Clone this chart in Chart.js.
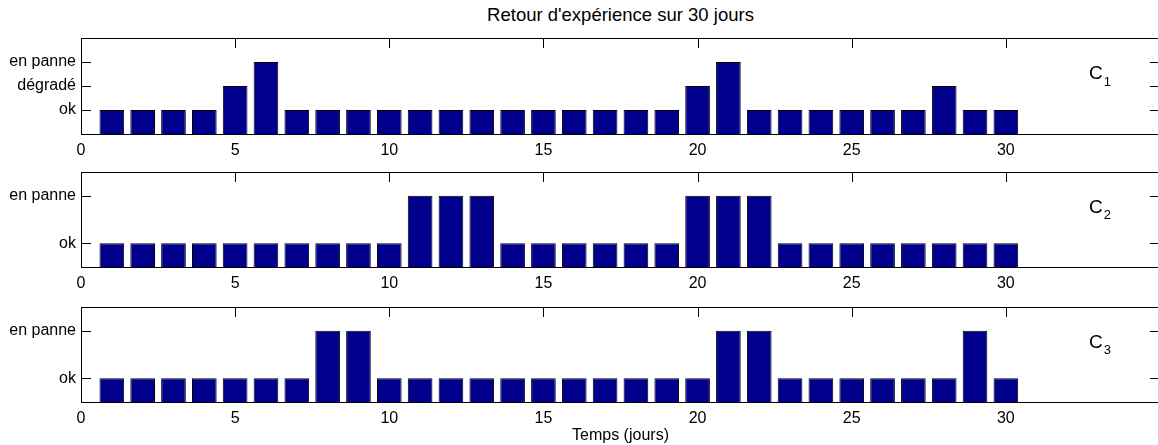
<!DOCTYPE html>
<html>
<head>
<meta charset="utf-8">
<script src="https://cdn.jsdelivr.net/npm/chart.js@4"></script>
<style>
  html, body { margin: 0; padding: 0; background: #fff; }
  body { width: 1158px; height: 445px; position: relative; overflow: hidden; font-family: "Liberation Sans", Arial, sans-serif; }
  canvas { position: absolute; left: 0; }
  .txt { position: absolute; left: 81px; width: 1079px; text-align: center; color: #000; white-space: nowrap; }
</style>
</head>
<body>
<div class="txt" id="title" style="top:5px; font-size:18.5px; line-height:20px;">Retour d'expérience sur 30 jours</div>
<canvas id="p1" width="1170" height="136" style="top:28px"></canvas>
<canvas id="p2" width="1170" height="135" style="top:162px"></canvas>
<canvas id="p3" width="1170" height="135" style="top:297px"></canvas>
<div class="txt" id="xlabel" style="top:427px; font-size:16px; line-height:16px;">Temps (jours)</div>
<script>
const days = [1, 2, 3, 4, 5, 6, 7, 8, 9, 10, 11, 12, 13, 14, 15, 16, 17, 18, 19, 20, 21, 22, 23, 24, 25, 26, 27, 28, 29, 30];
// 1 = ok, 2 = dégradé, 3 = en panne
const c1 = [1, 1, 1, 1, 2, 3, 1, 1, 1, 1, 1, 1, 1, 1, 1, 1, 1, 1, 1, 2, 3, 1, 1, 1, 1, 1, 1, 2, 1, 1];
const c2 = [1, 1, 1, 1, 1, 1, 1, 1, 1, 1, 3, 3, 3, 1, 1, 1, 1, 1, 1, 3, 3, 3, 1, 1, 1, 1, 1, 1, 1, 1];
const c3 = [1, 1, 1, 1, 1, 1, 1, 3, 3, 1, 1, 1, 1, 1, 1, 1, 1, 1, 1, 1, 3, 3, 1, 1, 1, 1, 1, 1, 3, 1];
const states = { 1: 'ok', 2: 'dégradé', 3: 'en panne' };
const ticks1 = [1, 2, 3];
const ticks23 = [1, 3];
const xTicks = [0, 5, 10, 15, 20, 25, 30];

const TICK = 10;
const FONT = "'Liberation Sans', Arial, sans-serif";

// box round the axes with inward ticks, MATLAB style
const boxPlugin = {
  id: 'box',
  beforeDatasetsDraw(chart) {
    const { ctx, chartArea: a, scales: { x, y } } = chart;
    ctx.save();
    ctx.strokeStyle = '#000';
    ctx.lineWidth = 1;
    ctx.beginPath();
    x.ticks.forEach(t => {
      const px = Math.round(x.getPixelForValue(t.value)) + 0.5;
      ctx.moveTo(px, a.top); ctx.lineTo(px, a.top + TICK);
      ctx.moveTo(px, a.bottom); ctx.lineTo(px, a.bottom - TICK);
    });
    y.ticks.forEach(t => {
      const py = Math.round(y.getPixelForValue(t.value)) + 0.5;
      ctx.moveTo(a.left, py); ctx.lineTo(a.left + TICK, py);
      ctx.moveTo(a.right, py); ctx.lineTo(a.right - TICK, py);
    });
    ctx.stroke();
    ctx.strokeRect(Math.round(a.left) + 0.5, Math.round(a.top) + 0.5,
      Math.round(a.right - a.left), Math.round(a.bottom - a.top));
    ctx.restore();
  },
  afterDatasetsDraw(chart, args, opts) {
    const { ctx, scales: { x, y } } = chart;
    const px = x.getPixelForValue(32.7);
    const py = y.getPixelForValue(2.5);
    ctx.save();
    ctx.fillStyle = '#000';
    ctx.textBaseline = 'middle';
    ctx.font = '19px ' + FONT;
    ctx.fillText('C', px, py);
    const w = ctx.measureText('C').width;
    ctx.font = '13px ' + FONT;
    ctx.fillText(opts.sub, px + w + 1, py + 8);
    ctx.restore();
  }
};

function makePanel(id, values, yTicks, sub) {
  new Chart(document.getElementById(id), {
    type: 'bar',
    data: {
      datasets: [{
        data: days.map((d, i) => ({ x: d, y: values[i] })),
        backgroundColor: '#00008c',
        borderColor: '#000000',
        borderWidth: 1,
        barPercentage: 0.8,
        categoryPercentage: 1.0
      }]
    },
    options: {
      responsive: false,
      animation: false,
      layout: { padding: { top: 10, right: 10, left: 0, bottom: 0 } },
      plugins: {
        legend: { display: false },
        tooltip: { enabled: false },
        box: { sub: sub }
      },
      scales: {
        x: {
          type: 'linear',
          min: 0,
          max: 35,
          offset: false,
          grid: { display: false, drawTicks: false, offset: false },
          border: { display: false },
          afterBuildTicks: s => { s.ticks = xTicks.map(v => ({ value: v })); },
          afterFit: s => { s.height = 30; s.paddingLeft = 0; s.paddingRight = 0; },
          ticks: {
            color: '#000',
            padding: 7,
            maxRotation: 0,
            font: { family: FONT, size: 16 },
            callback: v => String(v)
          }
        },
        y: {
          min: 0,
          max: 4,
          grid: { display: false, drawTicks: false },
          border: { display: false },
          afterBuildTicks: s => { s.ticks = yTicks.map(v => ({ value: v })); },
          afterFit: s => { s.width = 81; s.paddingTop = 0; s.paddingBottom = 0; },
          ticks: {
            color: '#000',
            padding: 5,
            font: { family: FONT, size: 16 },
            callback: v => states[v] || ''
          }
        }
      }
    },
    plugins: [boxPlugin]
  });
}

makePanel('p1', c1, ticks1, '1');
makePanel('p2', c2, ticks23, '2');
makePanel('p3', c3, ticks23, '3');
</script>
</body>
</html>
